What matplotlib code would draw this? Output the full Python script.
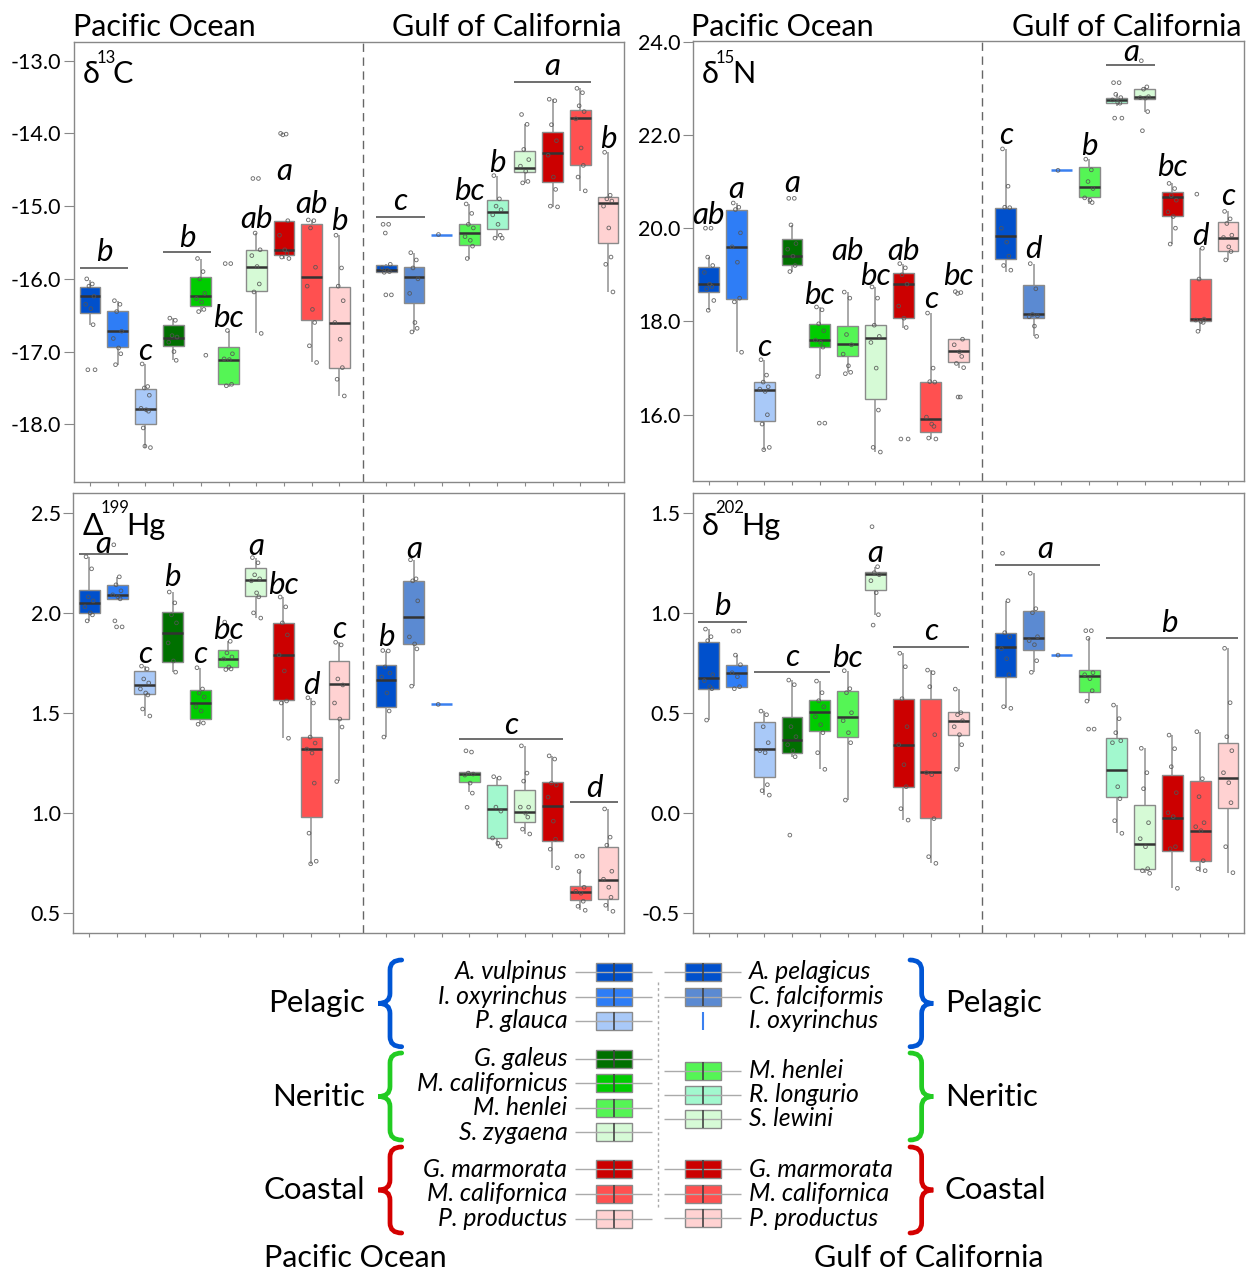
import matplotlib
matplotlib.use("Agg")
import matplotlib.pyplot as plt
from matplotlib.patches import Rectangle, PathPatch
from matplotlib.path import Path

plt.rcParams["font.family"] = ["Lato", "DejaVu Sans"]
plt.rcParams["axes.unicode_minus"] = False

# ---- species / colours (Pacific first, then Gulf of California) ----
PAC_SPECIES = ["A. vulpinus", "I. oxyrinchus", "P. glauca", "G. galeus", "M. californicus",
               "M. henlei", "S. zygaena", "G. marmorata", "M. californica", "P. productus"]
GULF_SPECIES = ["A. pelagicus", "C. falciformis", "I. oxyrinchus", "M. henlei", "R. longurio",
                "S. lewini", "G. marmorata", "M. californica", "P. productus"]
PAC_COLORS = ["#0050CC", "#2E7DF6", "#A9C9F8", "#007000", "#00CC00",
              "#55F555", "#D6FAD6", "#CC0000", "#FF5050", "#FFD2D2"]
GULF_COLORS = ["#0050CC", "#5B8AD2", "#3A80F0", "#55F555", "#A2F8CE",
               "#D6FAD6", "#CC0000", "#FF5050", "#FFD2D2"]

# ---- d13C ----
C13_LO = [-16.63, -17.18, -18.33, -17.12, -16.45, -17.49, -16.75, -15.72, -17.15, -17.61,
          -15.92, -16.73, -15.39, -15.72, -15.44, -14.68, -15.01, -14.79, -16.18]
C13_Q1 = [-16.47, -16.94, -17.995, -16.92, -16.37, -17.45, -16.17, -15.67, -16.57, -17.23,
          -15.90, -16.33, -15.39, -15.54, -15.31, -14.535, -14.67, -14.43, -15.51]
C13_MED = [-16.24, -16.72, -17.79, -16.81, -16.24, -17.11, -15.83, -15.61, -15.98, -16.60,
           -15.88, -15.97, -15.39, -15.37, -15.08, -14.47, -14.27, -13.79, -14.96]
C13_Q3 = [-16.11, -16.44, -17.51, -16.63, -15.98, -16.94, -15.61, -15.20, -15.25, -16.11,
          -15.81, -15.84, -15.39, -15.25, -14.92, -14.24, -13.98, -13.68, -14.88]
C13_HI = [-16.02, -16.31, -17.17, -16.54, -15.72, -16.71, -15.37, -15.20, -15.19, -15.40,
          -15.80, -15.64, -15.39, -14.97, -14.58, -13.875, -13.53, -13.38, -14.26]
C13_PTS = [
    [-16.0, -16.07, -16.1, -16.24, -16.35, -16.41, -16.63, -17.25, -17.25],
    [-16.3, -16.35, -16.45, -16.72, -16.82, -16.95, -17.03, -17.18],
    [-17.17, -17.48, -17.5, -17.6, -17.78, -17.8, -17.82, -18.05, -18.32, -18.3],
    [-16.54, -16.57, -16.78, -16.8, -16.87, -17.0, -17.12],
    [-15.72, -15.9, -16.0, -16.2, -16.27, -16.32, -16.42, -16.45, -17.05],
    [-15.79, -15.79, -16.71, -17.03, -17.1, -17.11, -17.45, -17.47],
    [-14.62, -14.62, -15.37, -15.6, -15.68, -15.83, -16.07, -16.18, -16.75],
    [-14.0, -14.01, -14.02, -15.2, -15.4, -15.6, -15.65, -15.7, -15.72],
    [-15.19, -15.2, -15.3, -15.84, -16.1, -16.42, -16.6, -16.92, -17.15],
    [-15.4, -15.85, -16.1, -16.3, -16.6, -16.83, -17.22, -17.38, -17.61],
    [-15.25, -15.25, -15.37, -15.8, -15.85, -15.88, -15.9, -15.91, -16.22, -16.22],
    [-15.64, -15.74, -15.85, -16.0, -16.2, -16.6, -16.68, -16.73],
    [-15.39],
    [-14.97, -15.1, -15.25, -15.3, -15.42, -15.47, -15.55, -15.72],
    [-14.58, -14.9, -15.0, -15.05, -15.12, -15.25, -15.4, -15.44, -15.44],
    [-13.74, -13.875, -14.22, -14.36, -14.45, -14.52, -14.66, -14.68],
    [-13.53, -13.55, -13.88, -14.1, -14.3, -14.6, -14.77, -15.0, -15.01],
    [-13.38, -13.44, -13.62, -13.7, -13.8, -14.2, -14.44, -14.6, -14.79],
    [-14.26, -14.85, -14.9, -14.93, -15.0, -15.3, -15.7, -15.8, -16.18],
]

# ---- d15N ----
N15_LO = [18.24, 17.34, 15.25, 19.07, 16.82, 16.91, 15.21, 17.87, 15.48, 17.01,
          19.07, 17.68, 21.24, 20.52, 22.62, 22.5, 19.66, 17.79, 19.32]
N15_Q1 = [18.63, 18.49, 15.86, 19.21, 17.46, 17.25, 16.34, 18.07, 15.62, 17.14,
          19.34, 18.07, 21.24, 20.66, 22.68, 22.77, 20.27, 18.0, 19.52]
N15_MED = [18.81, 19.6, 16.52, 19.41, 17.61, 17.52, 17.64, 18.81, 15.91, 17.37,
           19.84, 18.16, 21.24, 20.89, 22.75, 22.81, 20.66, 18.05, 19.8]
N15_Q3 = [19.16, 20.38, 16.7, 19.77, 17.95, 17.91, 17.93, 19.04, 16.71, 17.62,
          20.44, 18.79, 21.24, 21.32, 22.79, 22.98, 20.77, 18.91, 20.13]
N15_HI = [19.38, 20.54, 17.18, 20.07, 18.31, 18.63, 18.74, 19.24, 18.18, 17.62,
          21.7, 19.24, 21.24, 21.48, 22.87, 23.03, 20.96, 19.57, 20.36]
N15_PTS = [
    [20.0, 20.0, 19.38, 19.2, 19.05, 18.8, 18.75, 18.7, 18.45, 18.24],
    [20.54, 20.45, 20.4, 19.9, 19.6, 19.27, 18.5, 18.42, 17.34],
    [17.18, 16.85, 16.7, 16.6, 16.55, 16.5, 16.0, 15.8, 15.3, 15.25],
    [20.64, 20.64, 20.07, 19.67, 19.55, 19.4, 19.2, 19.07],
    [18.31, 18.25, 17.95, 17.8, 17.6, 17.55, 17.45, 16.82, 15.82, 15.82],
    [18.63, 18.5, 17.72, 17.5, 17.3, 17.05, 16.91, 16.88],
    [18.74, 18.5, 17.92, 17.68, 17.55, 17.0, 16.1, 15.3, 15.2],
    [19.24, 19.15, 19.0, 18.8, 18.33, 18.07, 17.87, 15.48, 15.48],
    [18.18, 17.0, 16.71, 16.7, 15.95, 15.8, 15.75, 15.5, 15.48],
    [18.64, 18.62, 18.6, 17.62, 17.5, 17.35, 17.25, 17.1, 17.01, 16.38, 16.38],
    [21.7, 20.9, 20.45, 20.44, 20.0, 19.7, 19.4, 19.2, 19.1],
    [19.24, 18.7, 18.15, 18.12, 18.1, 17.9, 17.68],
    [21.24],
    [21.48, 21.25, 21.0, 20.85, 20.65, 20.6, 20.55],
    [23.12, 23.12, 22.87, 22.8, 22.75, 22.7, 22.68, 22.36, 22.36],
    [23.59, 23.03, 22.98, 22.82, 22.8, 22.79, 22.5, 22.09],
    [20.96, 20.85, 20.7, 20.6, 20.35, 20.25, 20.0, 19.66],
    [20.73, 19.57, 18.91, 18.05, 18.03, 18.0, 17.98, 17.79],
    [20.36, 20.2, 20.1, 19.85, 19.8, 19.6, 19.5, 19.32],
]

# ---- D199Hg ----
H199_LO = [1.958, 2.07, 1.485, 1.704, 1.444, 1.717, 1.974, 1.374, 0.747, 1.158,
           1.382, 1.634, 1.543, 1.104, 0.835, 0.896, 0.727, 0.515, 0.51]
H199_Q1 = [1.999, 2.07, 1.593, 1.755, 1.468, 1.729, 2.082, 1.563, 0.979, 1.472,
           1.531, 1.845, 1.543, 1.153, 0.876, 0.958, 0.863, 0.568, 0.573]
H199_MED = [2.049, 2.09, 1.638, 1.9, 1.551, 1.772, 2.165, 1.792, 1.319, 1.643,
            1.667, 1.978, 1.543, 1.195, 1.021, 1.004, 1.034, 0.606, 0.664]
H199_Q3 = [2.115, 2.14, 1.709, 2.004, 1.613, 1.813, 2.226, 1.949, 1.382, 1.762,
           1.742, 2.157, 1.543, 1.203, 1.14, 1.117, 1.153, 0.636, 0.83]
H199_HI = [2.28, 2.177, 1.734, 2.104, 1.726, 1.858, 2.276, 2.079, 1.576, 1.853,
           1.812, 2.265, 1.543, 1.21, 1.182, 1.336, 1.286, 0.709, 1.021]
H199_PTS = [
    [2.28, 2.22, 2.08, 2.06, 2.03, 2.0, 1.99, 1.96],
    [2.34, 2.18, 2.14, 2.11, 2.09, 2.08, 2.07, 1.96, 1.93, 1.93],
    [1.734, 1.72, 1.67, 1.65, 1.62, 1.6, 1.59, 1.52, 1.485],
    [2.104, 2.05, 1.99, 1.95, 1.85, 1.76, 1.704],
    [1.726, 1.62, 1.6, 1.58, 1.53, 1.51, 1.45, 1.444],
    [1.954, 1.858, 1.8, 1.78, 1.77, 1.73, 1.72, 1.717],
    [2.276, 2.25, 2.19, 2.17, 2.16, 2.1, 2.08, 2.0, 1.974],
    [2.079, 2.03, 1.95, 1.89, 1.79, 1.71, 1.56, 1.55, 1.374],
    [1.576, 1.55, 1.38, 1.35, 1.32, 1.3, 1.15, 0.9, 0.76, 0.747],
    [1.853, 1.84, 1.67, 1.64, 1.55, 1.47, 1.43, 1.158],
    [1.812, 1.81, 1.73, 1.7, 1.68, 1.6, 1.51, 1.38],
    [2.265, 2.17, 2.16, 2.06, 1.88, 1.845, 1.82, 1.634],
    [1.543],
    [1.311, 1.305, 1.2, 1.195, 1.19, 1.15, 1.1, 1.029],
    [1.182, 1.175, 1.03, 1.01, 0.876, 0.85, 0.835],
    [1.336, 1.2, 1.16, 1.03, 1.03, 1.0, 0.98, 0.92, 0.896],
    [1.286, 1.27, 1.15, 1.14, 1.08, 0.96, 0.87, 0.82, 0.727],
    [0.785, 0.785, 0.709, 0.63, 0.61, 0.6, 0.56, 0.535, 0.515],
    [1.021, 0.88, 0.84, 0.71, 0.67, 0.63, 0.58, 0.54, 0.51],
]

# ---- d202Hg ----
H202_LO = [0.463, 0.627, 0.088, 0.28, 0.217, 0.063, 0.988, -0.037, -0.253, 0.217,
           0.522, 0.702, 0.788, 0.558, -0.103, -0.303, -0.378, -0.295, -0.3]
H202_Q1 = [0.617, 0.627, 0.177, 0.3, 0.408, 0.377, 1.113, 0.127, -0.028, 0.388,
           0.68, 0.813, 0.788, 0.605, 0.077, -0.283, -0.19, -0.242, 0.025]
H202_MED = [0.672, 0.697, 0.318, 0.362, 0.502, 0.477, 1.192, 0.338, 0.205, 0.458,
            0.827, 0.872, 0.788, 0.683, 0.213, -0.157, -0.028, -0.092, 0.172]
H202_Q3 = [0.852, 0.738, 0.452, 0.477, 0.563, 0.61, 1.205, 0.567, 0.567, 0.505,
           0.9, 1.01, 0.788, 0.713, 0.372, 0.038, 0.188, 0.158, 0.35]
H202_HI = [0.918, 0.788, 0.508, 0.663, 0.658, 0.71, 1.23, 0.797, 0.713, 0.618,
           1.06, 1.197, 0.788, 0.872, 0.538, 0.322, 0.388, 0.405, 0.822]
H202_PTS = [
    [0.918, 0.88, 0.86, 0.69, 0.66, 0.63, 0.62, 0.463],
    [0.908, 0.908, 0.788, 0.74, 0.7, 0.68, 0.63, 0.62],
    [0.508, 0.49, 0.43, 0.35, 0.31, 0.3, 0.14, 0.11, 0.088],
    [0.663, 0.64, 0.43, 0.38, 0.34, 0.31, 0.28, -0.112],
    [0.658, 0.6, 0.56, 0.53, 0.48, 0.44, 0.4, 0.3, 0.217],
    [0.71, 0.62, 0.6, 0.5, 0.46, 0.4, 0.35, 0.063],
    [1.43, 1.23, 1.2, 1.19, 1.16, 1.1, 0.99, 0.938],
    [0.797, 0.73, 0.57, 0.43, 0.34, 0.24, 0.13, 0.02, -0.037],
    [0.713, 0.7, 0.63, 0.39, 0.2, 0.19, -0.03, -0.22, -0.253],
    [0.618, 0.5, 0.49, 0.46, 0.43, 0.39, 0.34, 0.217],
    [1.297, 1.06, 0.9, 0.88, 0.82, 0.77, 0.69, 0.53, 0.522],
    [1.197, 1.02, 1.0, 0.88, 0.86, 0.84, 0.76, 0.702],
    [0.788],
    [0.91, 0.91, 0.872, 0.7, 0.69, 0.67, 0.61, 0.558, 0.418, 0.418],
    [0.538, 0.47, 0.4, 0.36, 0.35, 0.13, 0.07, -0.04, -0.103],
    [0.322, 0.2, 0.12, -0.05, -0.13, -0.17, -0.28, -0.29, -0.303],
    [0.388, 0.32, 0.23, 0.1, 0.0, -0.02, -0.17, -0.18, -0.378],
    [0.405, 0.17, 0.08, -0.05, -0.07, -0.09, -0.24, -0.28, -0.29],
    [0.822, 0.55, 0.38, 0.31, 0.2, 0.15, 0.05, -0.17, -0.3],
]

# significance letters (text, x position, y baseline) and group bars (first box, last box, y)
C13_LETTERS = [("b", 1.5, -15.76), ("c", 3, -17.12), ("b", 4.5, -15.56), ("bc", 6, -16.66),
               ("ab", 7, -15.30), ("a", 8, -14.64), ("ab", 9, -15.10), ("b", 10, -15.33),
               ("c", 12.2, -15.06), ("bc", 14.7, -14.92), ("b", 15.7, -14.53),
               ("a", 17.7, -13.20), ("b", 19.7, -14.2)]
C13_BARS = [(0, 1, -15.846), (3, 4, -15.635), (10, 11, -15.145), (15, 17, -13.289)]
N15_LETTERS = [("ab", 1, 20.09), ("a", 2, 20.64), ("c", 3, 17.27), ("a", 4, 20.77),
               ("bc", 5, 18.37), ("ab", 6, 19.32), ("bc", 7, 18.79), ("ab", 8, 19.32),
               ("c", 9, 18.29), ("bc", 10, 18.79), ("c", 11.7, 21.81), ("d", 12.7, 19.36),
               ("b", 14.7, 21.57), ("a", 16.2, 23.59), ("bc", 17.7, 21.11),
               ("d", 18.7, 19.63), ("c", 19.7, 20.49)]
N15_BARS = [(14, 15, 23.49)]
H199_LETTERS = [("a", 1.5, 2.30), ("c", 3, 1.75), ("b", 4, 2.132), ("c", 5, 1.75),
                ("bc", 6, 1.867), ("a", 7, 2.289), ("bc", 8, 2.094), ("d", 9, 1.596),
                ("c", 10, 1.875), ("b", 11.7, 1.833), ("a", 12.7, 2.276),
                ("c", 16.2, 1.394), ("d", 19.2, 1.082)]
H199_BARS = [(0, 1, 2.293), (13, 16, 1.369), (17, 18, 1.057)]
H202_LETTERS = [("b", 1.5, 0.988), ("c", 4, 0.735), ("bc", 6, 0.73), ("a", 7, 1.252),
                ("c", 9, 0.863), ("a", 13.13, 1.275), ("b", 17.58, 0.905)]
H202_BARS = [(0, 1, 0.955), (2, 4, 0.702), (7, 9, 0.83), (10, 13, 1.238), (14, 18, 0.872)]

W, H = 1255, 1272
POS = [i + 1 for i in range(10)] + [11.7 + i for i in range(9)]
JIT = [-0.12, 0.08, -0.04, 0.14, -0.16, 0.03, 0.11, -0.08, 0.18, -0.02, 0.06]
COLORS = PAC_COLORS + GULF_COLORS


def draw_panel(ax, lo, q1, med, q3, hi, pts, ylim, yticks, letters, bars):
    for i, x in enumerate(POS):
        if q1[i] == q3[i]:
            ax.hlines(med[i], x - 0.375, x + 0.375, color=COLORS[i], lw=1.8, zorder=3)
        else:
            ax.vlines(x, lo[i], q1[i], color="#9a9a9a", lw=1.2, zorder=1)
            ax.vlines(x, q3[i], hi[i], color="#9a9a9a", lw=1.2, zorder=1)
            ax.add_patch(Rectangle((x - 0.375, q1[i]), 0.75, q3[i] - q1[i],
                                   fc=COLORS[i], ec="#8a8a8a", lw=1.0, zorder=2))
            ax.hlines(med[i], x - 0.375, x + 0.375, color="#333333", lw=1.8, zorder=3)
        xs = [x + JIT[k % len(JIT)] for k in range(len(pts[i]))]
        ax.scatter(xs, pts[i], s=7, facecolors="none", edgecolors="#555555",
                   linewidths=0.65, alpha=0.85, zorder=4)
    for txt, x, y in letters:
        ax.text(x, y, txt, style="italic", fontsize=22.5, ha="center", va="baseline", zorder=5)
    for i0, i1, y in bars:
        ax.hlines(y, POS[i0] - 0.38, POS[i1] + 0.38, color="#555555", lw=1.2, zorder=5)
    ax.axvline(10.85, color="#666666", ls=(0, (6, 4)), lw=1, zorder=0)
    ax.set_xlim(0.42, 20.29)
    ax.set_ylim(*ylim)
    ax.set_xticks(POS)
    ax.set_xticklabels([])
    ax.set_yticks(yticks)
    ax.set_yticklabels([f"{v:.1f}" for v in yticks])
    ax.tick_params(axis="x", length=3, color="#888888")
    ax.tick_params(axis="y", length=7, color="#888888", labelsize=15.5, pad=2)
    for s in ax.spines.values():
        s.set_color("#888888")
        s.set_linewidth(1)


fig = plt.figure(figsize=(W / 100, H / 100), dpi=100)

ax1 = fig.add_axes([74 / W, 1 - 481.7 / H, 550.3 / W, 440 / H])
ax2 = fig.add_axes([692.7 / W, 1 - 480.5 / H, 551.6 / W, 439.8 / H])
ax3 = fig.add_axes([73.3 / W, 1 - 933.3 / H, 551 / W, 440 / H])
ax4 = fig.add_axes([692.7 / W, 1 - 933.3 / H, 551.6 / W, 440 / H])

draw_panel(ax1, C13_LO, C13_Q1, C13_MED, C13_Q3, C13_HI, C13_PTS,
           (-18.789, -12.739), [-18, -17, -16, -15, -14, -13], C13_LETTERS, C13_BARS)
draw_panel(ax2, N15_LO, N15_Q1, N15_MED, N15_Q3, N15_HI, N15_PTS,
           (14.59, 24.02), [16, 18, 20, 22, 24], N15_LETTERS, N15_BARS)
draw_panel(ax3, H199_LO, H199_Q1, H199_MED, H199_Q3, H199_HI, H199_PTS,
           (0.40, 2.597), [0.5, 1.0, 1.5, 2.0, 2.5], H199_LETTERS, H199_BARS)
draw_panel(ax4, H202_LO, H202_Q1, H202_MED, H202_Q3, H202_HI, H202_PTS,
           (-0.603, 1.597), [-0.5, 0.0, 0.5, 1.0, 1.5], H202_LETTERS, H202_BARS)

# overlay in pixel coordinates for titles, panel labels and the legend
lg = fig.add_axes([0, 0, 1, 1])
lg.set_xlim(0, W)
lg.set_ylim(H, 0)
lg.axis("off")
lg.set_zorder(10)
renderer = fig.canvas.get_renderer()

TITLE = 22
for left, right in [(73, 622), (691, 1242)]:
    lg.text(left, 36, "Pacific Ocean", fontsize=TITLE, ha="left", va="baseline")
    lg.text(right, 36, "Gulf of California", fontsize=TITLE, ha="right", va="baseline")

# panel labels: lead symbol, superscript mass number, element
for x0, yb, ys, lead, sup, tail in [
        (82.7, 82.7, 63.3, "δ", "13", "C"),
        (701.7, 82.7, 63.3, "δ", "15", "N"),
        (82.7, 535, 513.3, "Δ", "199", "Hg"),
        (701.7, 535, 513.3, "δ", "202", "Hg")]:
    t = lg.text(x0, yb, lead, fontsize=22, ha="left", va="baseline")
    xe = t.get_window_extent(renderer).x1
    t = lg.text(xe - 3, ys, sup, fontsize=12, ha="left", va="baseline")
    xe = t.get_window_extent(renderer).x1
    lg.text(xe - 3, yb, tail, fontsize=22, ha="left", va="baseline")


def brace(x_tip, x_end, y0, y1, color):
    xm = (x_tip + x_end) / 2
    ym = (y0 + y1) / 2
    r = 10
    verts = [(x_end, y0), (xm, y0), (xm, y0 + r), (xm, ym - r), (xm, ym), (x_tip, ym),
             (xm, ym), (xm, ym + r), (xm, y1 - r), (xm, y1), (x_end, y1)]
    codes = [Path.MOVETO, Path.CURVE3, Path.CURVE3, Path.LINETO, Path.CURVE3, Path.CURVE3,
             Path.CURVE3, Path.CURVE3, Path.LINETO, Path.CURVE3, Path.CURVE3]
    lg.add_patch(PathPatch(Path(verts, codes), fc="none", ec=color, lw=3.4, capstyle="round"))


GROUPS = ["Pelagic", "Neritic", "Coastal"]
GROUP_COLORS = ["#0055D4", "#22CC22", "#D40000"]
GROUP_SPANS = [(960, 1046.7), (1053, 1140), (1147, 1233)]
for g, c, (y0, y1) in zip(GROUPS, GROUP_COLORS, GROUP_SPANS):
    brace(378.3, 401.7, y0, y1, c)
    brace(933.3, 910, y0, y1, c)
    lg.text(365, (y0 + y1) / 2, g, fontsize=22.5, ha="right", va="center")
    lg.text(945, (y0 + y1) / 2, g, fontsize=22.5, ha="left", va="center")

PAC_ROWS = [971.7, 996.7, 1020.7, 1059, 1083.3, 1107.7, 1132.3, 1169.3, 1194, 1219]
GULF_ROWS = [971.7, 996.7, 1020.7, 1070.7, 1095, 1119, 1169.3, 1194, 1218.3]


def key(xc, y, color, single=False):
    if single:
        lg.vlines(xc, y - 9, y + 9, color=color, lw=1.5)
        return
    lg.hlines(y, xc - 39, xc + 38, color="#aaaaaa", lw=1)
    lg.add_patch(Rectangle((xc - 18, y - 9), 36, 18, fc=color, ec="#8a8a8a", lw=1))
    lg.vlines(xc, y - 9, y + 9, color="#444444", lw=1.2)


for name, color, y in zip(PAC_SPECIES, PAC_COLORS, PAC_ROWS):
    key(613.7, y, color)
    lg.text(567.3, y, name, fontsize=17.8, style="italic", ha="right", va="center")
for i, (name, color, y) in enumerate(zip(GULF_SPECIES, GULF_COLORS, GULF_ROWS)):
    key(703.4, y, color, single=(i == 2))
    lg.text(749.3, y, name, fontsize=17.8, style="italic", ha="left", va="center")

lg.vlines(658.3, 981.7, 1208, color="#aaaaaa", lw=1, linestyles=(0, (2, 2)))

lg.text(355, 1258, "Pacific Ocean", fontsize=TITLE, ha="center", va="center")
lg.text(928.5, 1258, "Gulf of California", fontsize=TITLE, ha="center", va="center")

fig.savefig("out.png", dpi=100)
